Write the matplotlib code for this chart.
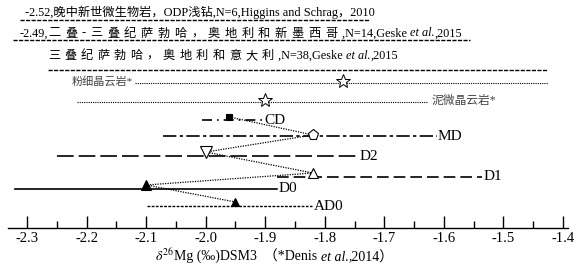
import matplotlib
matplotlib.use("Agg")
import matplotlib.pyplot as plt
import matplotlib.transforms as mtransforms

plt.rcParams['font.family'] = ['Liberation Serif', 'Noto Sans CJK SC', 'DejaVu Sans']
plt.rcParams['mathtext.fontset'] = 'stix'

# literature ranges (top three dashed rows); pieces are (text, italic, letter gap px)
lit_labels = [
    [("-2.52,晚中新世微生物岩，ODP浅钻,N=6,Higgins and Schrag，2010", False, 0)],
    [("-2.49,", False, 0), ("二叠-三叠纪萨勃哈，奥地利和新墨西哥", False, 4.5),
     (",N=14,Geske ", False, 0), ("et al.", True, 0), (",2015", False, 0)],
    [("三叠纪萨勃哈，奥地利和意大利", False, 4.2), (",N=38,Geske ", False, 0),
     ("et al.", True, 0), (",2015", False, 0)],
]
lit_lo = [-2.312, -2.323, -2.265]
lit_hi = [-1.724, -1.556, -1.425]

# reference dolomites (Denis et al., 2014)
ref_labels = ["粉细晶云岩*", "泥微晶云岩*"]
ref_mean = [-1.77, -1.90]
ref_lo = [-2.119, -2.216]
ref_hi = [-1.425, -1.628]

# samples of this study
samples = ["CD", "MD", "D2", "D1", "D0", "AD0"]
mean = [-1.96, -1.82, -2.00, -1.82, -2.10, -1.95]
lo = [-2.006, -2.072, -2.25, -1.88, -2.32, -2.098]
hi = [-1.904, -1.612, -1.744, -1.536, -1.88, -1.821]

xticks = [-2.3, -2.2, -2.1, -2.0, -1.9, -1.8, -1.7, -1.6, -1.5, -1.4]
xlabel_pieces = [(r"$\delta^{26}$", False, 0), ("Mg (‰)DSM3  （*Denis ", False, 0),
                 ("et al.", True, 0), (",2014）", False, 0)]

# layout (y in pixels from top)
lit_y = [20, 40, 70]
lit_text_y = [16, 36.5, 59]
lit_text_x = [-2.303, -2.312, -2.265]
ref_y = [83, 102]
smp_y = [120, 136, 156, 177, 189, 206]
smp_styles = [
    dict(ls=(0, (6, 3, 1, 3)), lw=1.2),
    dict(ls=(0, (8, 2, 2, 2)), lw=1.2),
    dict(ls=(0, (10, 3)), lw=1.2),
    dict(ls=(0, (7, 3)), lw=1.2),
    dict(ls='-', lw=1.2),
    dict(ls=(0, (2, 1)), lw=1.0),
]
smp_markers = [
    dict(marker='s', ms=5, mfc='black'),
    dict(marker='p', ms=8, mfc='white'),
    dict(marker='v', ms=8, mfc='white'),
    dict(marker='^', ms=7, mfc='white'),
    dict(marker='^', ms=7, mfc='black'),
    dict(marker='^', ms=6, mfc='black'),
]
mk_off = [3, 1, 4, 4, 4, 4]

fig = plt.figure(figsize=(5.82, 2.66), dpi=100)
ax = fig.add_axes([8 / 582, (266 - 228) / 266, 560 / 582, 228 / 266])
ax.set_xlim(-2.332, -1.3915)
ax.set_ylim(228, 0)
renderer = fig.canvas.get_renderer()


def rich_text(x, y, pieces, base, **kw):
    # place text pieces one after another on a common baseline
    dx = 0
    for s, it, gap in pieces:
        parts = list(s) if gap else [s]
        for p in parts:
            tr = mtransforms.offset_copy(base, fig=fig, x=dx, y=0, units='dots')
            t = fig.text(x, y, p, transform=tr, ha='left', va='baseline',
                         fontstyle='italic' if it else 'normal', **kw)
            dx += t.get_window_extent(renderer).width + gap


for i in range(3):
    ax.plot([lit_lo[i], lit_hi[i]], [lit_y[i]] * 2, color='black', lw=1.0, ls=(0, (3, 1)))
    rich_text(lit_text_x[i], lit_text_y[i], lit_labels[i], ax.transData, fontsize=8.8)

for i in range(2):
    ax.plot([ref_lo[i], ref_hi[i]], [ref_y[i]] * 2, color='black', lw=0.8, ls=(0, (1, 1)))
    ax.plot(ref_mean[i], ref_y[i] - 2, marker='*', ms=10, mfc='white', mec='black', mew=0.7)
ax.text(ref_lo[0] - 0.003, ref_y[0] - 2, ref_labels[0], fontsize=8, color='#444444', ha='right', va='center')
ax.text(ref_hi[1] + 0.008, ref_y[1] - 1, ref_labels[1], fontsize=8.5, color='#444444', ha='left', va='center')

# dotted chain connecting the sample means
my = [smp_y[i] - mk_off[i] for i in range(len(samples))]
ax.plot(mean, my, color='black', lw=0.9, ls=(0, (1, 1)), zorder=2)

for i, s in enumerate(samples):
    ax.plot([lo[i], hi[i]], [smp_y[i]] * 2, color='black', **smp_styles[i])
    ax.plot(mean[i], my[i], color='black', mec='black', mew=0.8, zorder=3, **smp_markers[i])
    ax.text(hi[i] + 0.002, smp_y[i], s, fontsize=11, ha='left', va='center')

for sp in ['top', 'left', 'right']:
    ax.spines[sp].set_visible(False)
ax.spines['bottom'].set_linewidth(1.0)
ax.set_yticks([])
ax.set_xticks(xticks)
ax.set_xticklabels([f"{t:.1f}" for t in xticks])
ax.set_xticks([t + 0.05 for t in xticks[:-1]], minor=True)
ax.tick_params(axis='x', which='major', direction='in', length=9, width=1, labelsize=10.5, pad=3)
ax.tick_params(axis='x', which='minor', direction='in', length=5, width=1)

rich_text(155 / 582, 5 / 266, xlabel_pieces, fig.transFigure, fontsize=10)

fig.savefig("out.png", dpi=100)
